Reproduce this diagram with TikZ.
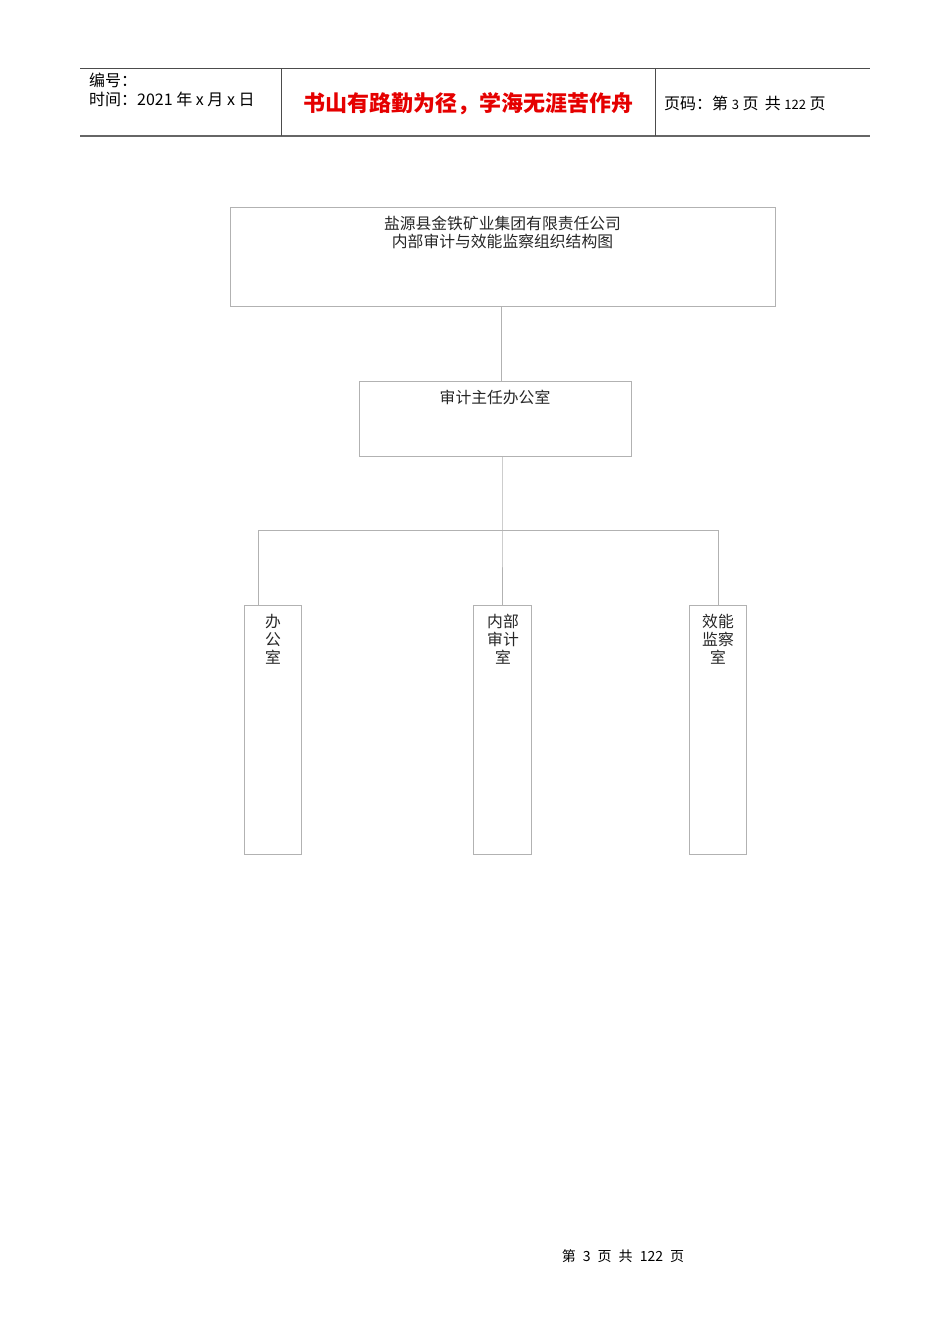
\documentclass[tikz,border=0pt]{standalone}
\usepackage{fontspec}
\setmainfont{Liberation Sans}
\newfontfamily\cjk{Noto Sans CJK SC}
\begin{document}
\begin{tikzpicture}[x=1pt,y=-1pt,
  box/.style={draw=black!30, line width=0.8pt, anchor=north west, inner sep=0pt},
  conn/.style={draw=black!30, line width=0.8pt},
  hdr/.style={draw=black!70, line width=1pt},
  lbl/.style={font=\cjk\fontsize{15.8}{18}\selectfont, anchor=north, inner sep=0pt, align=center, text=black!85}]
\useasboundingbox (0,0) rectangle (950,1344);
% header
\draw[hdr] (80,68.5) -- (870,68.5);
\draw[draw=black!60, line width=1.8pt] (80,136) -- (870,136);
\draw[hdr] (281,68.5) -- (281,136);
\draw[hdr] (655,68.5) -- (655,136);
\node[anchor=west, inner sep=0pt, font=\cjk\fontsize{16}{18}\selectfont] (h1) at (89,80) {编号：};
\node[anchor=west, inner sep=0pt, font=\cjk\fontsize{16}{18}\selectfont] (h2) at (89,99) {时间：2021 年 x 月 x 日};
\node[inner sep=0pt, text=red!90!black, font=\cjk\bfseries\fontsize{22}{24}\selectfont] (h3) at (468,104) {书山有路勤为径，学海无涯苦作舟};
\node[anchor=west, inner sep=0pt, font=\cjk\fontsize{16}{18}\selectfont] (h4) at (664,103) {页码：第 {\fontsize{13}{14}\selectfont 3} 页 \,共 {\fontsize{13}{14}\selectfont 122} 页};
% boxes
\node[box, minimum width=545pt, minimum height=99pt] (top) at (230,207) {};
\node[lbl] (toptext) at (502.5,216) {盐源县金铁矿业集团有限责任公司\\内部审计与效能监察组织结构图};
\node[box, minimum width=272pt, minimum height=75pt] (main) at (359,381) {};
\node[lbl] (maintext) at (495,390) {审计主任办公室};
\node[box, minimum width=57pt, minimum height=249pt] (b1) at (244,605) {};
\node[box, minimum width=58pt, minimum height=249pt] (b2) at (473,605) {};
\node[box, minimum width=57pt, minimum height=249pt] (b3) at (689,605) {};
\node[lbl] (t1) at (273,614) {办\\公\\室};
\node[lbl] (t2) at (503,614) {内部\\审计\\室};
\node[lbl] (t3) at (718,614) {效能\\监察\\室};
% connectors
\coordinate (c1) at (501.5,306);
\coordinate (c2) at (502,456);
\coordinate (bus) at (502,530.5);
\coordinate (d1) at (258.5,605);
\coordinate (d3) at (718,605);
\draw[conn] (c1) -- (c1 |- main.north);
\draw[conn] (c2) -- (bus) -- (b2.north -| bus);
\draw[conn] (d1) -- (d1 |- bus) -- (d3 |- bus) -- (d3);
% footer
\node[inner sep=0pt, font=\cjk\fontsize{14}{15}\selectfont] (foot) at (623,1256) {第 \;3\; 页 \;共 \;122\; 页};
\end{tikzpicture}
\end{document}
